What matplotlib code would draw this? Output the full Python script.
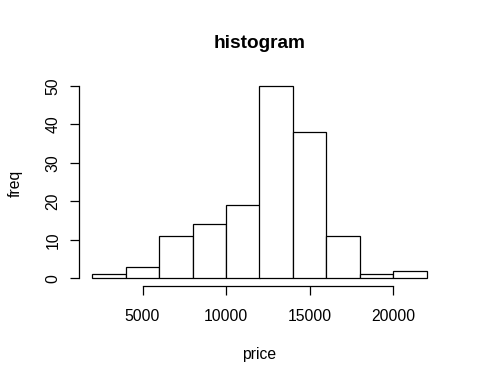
import matplotlib
matplotlib.use("Agg")
import matplotlib.pyplot as plt
import numpy as np

bin_edges = [2000, 4000, 6000, 8000, 10000, 12000, 14000, 16000, 18000, 20000, 22000]
counts = [1, 3, 11, 14, 19, 50, 38, 11, 1, 2]
x_ticks = [5000, 10000, 15000, 20000]
y_ticks = [0, 10, 20, 30, 40, 50]

plt.rcParams['font.family'] = ['Liberation Sans', 'DejaVu Sans']

W, H = 480, 384
fig = plt.figure(figsize=(4.8, 3.84), dpi=100)
ax = fig.add_axes([79/W, 1-286/H, (440-79)/W, (286-78.3)/H])

edges = np.array(bin_edges)
widths = np.diff(edges)
ax.bar(edges[:-1], counts, width=widths, align='edge', facecolor='white',
       edgecolor='black', linewidth=0.9)

ax.set_xlim(1200, 22800)
ax.set_ylim(-2, 52)
for s in ['top', 'right']:
    ax.spines[s].set_visible(False)
ax.spines['left'].set_bounds(0, 50)
ax.spines['bottom'].set_bounds(5000, 20000)
for s in ['left', 'bottom']:
    ax.spines[s].set_linewidth(0.9)
ax.set_xticks(x_ticks)
ax.set_yticks(y_ticks)
ax.set_xticklabels([str(v) for v in x_ticks])
ax.set_yticklabels([str(v) for v in y_ticks], rotation=90, va='center')
ax.tick_params(direction='out', length=6.8, width=0.9, labelsize=11.3, colors='black')
ax.tick_params(axis='x', pad=10)
ax.tick_params(axis='y', pad=6.5)

fs = 11.3
fig.text(259.5/W, 1-355/H, 'price', fontsize=fs, ha='center', va='center')
fig.text(15/W, 1-183/H, 'freq', fontsize=fs, ha='center', va='center', rotation=90)
fig.text(259.5/W, 1-43/H, 'histogram', fontsize=13.7, fontweight='bold', ha='center', va='center')

fig.savefig('out.png', dpi=100)
